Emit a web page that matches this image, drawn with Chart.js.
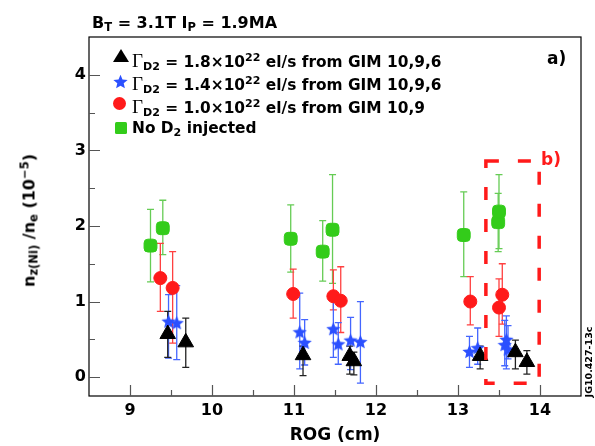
<!DOCTYPE html>
<html>
<head>
<meta charset="utf-8">
<script src="https://cdn.jsdelivr.net/npm/chart.js@4.4.1/dist/chart.umd.min.js"></script>
<style>
  body { margin: 0; background: #fff; }
  #wrap { position: relative; width: 595px; height: 446px; font-family: "DejaVu Sans", sans-serif; font-weight: bold; color: #000; overflow: hidden; }
  #plot { position: absolute; left: 0; top: 0; }
  .txt { position: absolute; white-space: nowrap; font-size: 16px; line-height: 16px; }
  .leg { font-size: 15.4px; }
  .sb { position: relative; top: 0.3em; font-size: 0.72em; }
  .sp { position: relative; top: -0.5em; font-size: 0.72em; }
  .gam { font-family: "Liberation Serif", serif; font-weight: normal; font-size: 19px; }
  .mk { position: absolute; }
</style>
</head>
<body>
<div id="wrap">
  <canvas id="plot" width="595" height="446"></canvas>

  <div class="txt" style="left:92px; top:15px;">B<span class="sb">T</span> = 3.1T I<span class="sb">P</span> = 1.9MA</div>

  <div class="mk" style="left:113px; top:49px; width:0; height:0; border-left:8.5px solid transparent; border-right:8.5px solid transparent; border-bottom:13px solid #000;"></div>
  <canvas class="mk" id="legStar" width="15" height="15" style="left:113px; top:74px;"></canvas>
  <div class="mk" style="left:113px; top:97px; width:13px; height:13px; border-radius:50%; background:#ff1a1a;"></div>
  <div class="mk" style="left:115px; top:122px; width:12px; height:12px; border-radius:1.5px; background:#33cc1a;"></div>

  <div class="txt leg" style="left:132px; top:53px;"><span class="gam">&Gamma;</span><span class="sb">D2</span> = 1.8&times;10<span class="sp">22</span> el/s from GIM 10,9,6</div>
  <div class="txt leg" style="left:132px; top:76px;"><span class="gam">&Gamma;</span><span class="sb">D2</span> = 1.4&times;10<span class="sp">22</span> el/s from GIM 10,9,6</div>
  <div class="txt leg" style="left:132px; top:99px;"><span class="gam">&Gamma;</span><span class="sb">D2</span> = 1.0&times;10<span class="sp">22</span> el/s from GIM 10,9</div>
  <div class="txt leg" style="left:132px; top:120px;">No D<span class="sb">2</span> injected</div>

  <div class="txt" style="left:547px; top:50px; font-size:17px;">a)</div>
  <div class="txt" style="left:541px; top:151px; font-size:17px; color:#ff1a1a;">b)</div>

  <div class="txt" style="left:-70px; top:212px; width:200px; text-align:center; transform:rotate(-90deg);">n<span class="sb">z(Ni)</span> /n<span class="sb">e</span> (10<span class="sp">&minus;5</span>)</div>

  <div class="txt" style="left:539px; top:357px; width:100px; text-align:center; font-size:9.5px; line-height:10px; transform:rotate(-90deg);">JG10.427-13c</div>
</div>

<script>
// axis ticks
const xTicks = [9, 10, 11, 12, 13, 14];
const yTicks = [0, 1, 2, 3, 4];
const xMinorTicks = [9.5, 10.5, 11.5, 12.5, 13.5];
const yMinorTicks = [0.5, 1.5, 2.5, 3.5];

// Gamma_D2 = 1.8e22 el/s (triangles)
const rog18 = [9.46, 9.68, 11.11, 11.68, 11.73, 13.27, 13.70, 13.84];
const ni18 = [0.57, 0.46, 0.29, 0.28, 0.21, 0.28, 0.33, 0.20];
const lo18 = [0.26, 0.13, 0.02, 0.04, 0.03, 0.11, 0.11, 0.04];
const hi18 = [0.87, 0.78, 0.41, 0.41, 0.33, 0.41, 0.49, 0.35];

// Gamma_D2 = 1.4e22 el/s (stars)
const rog14 = [9.47, 9.57, 11.07, 11.13, 11.48, 11.54, 11.69, 11.81, 13.14, 13.24, 13.57, 13.59, 13.61];
const ni14 = [0.74, 0.72, 0.60, 0.46, 0.64, 0.44, 0.49, 0.47, 0.34, 0.39, 0.43, 0.50, 0.37];
const lo14 = [0.25, 0.23, 0.11, 0.16, 0.26, 0.17, 0.10, -0.08, 0.13, 0.17, 0.15, 0.11, 0.24];
const hi14 = [1.09, 1.21, 1.11, 0.76, 1.03, 0.72, 0.79, 1.00, 0.54, 0.65, 0.75, 0.81, 0.68];

// Gamma_D2 = 1.0e22 el/s (circles)
const rog10 = [9.37, 9.52, 10.99, 11.48, 11.57, 13.15, 13.50, 13.54];
const ni10 = [1.31, 1.18, 1.10, 1.07, 1.01, 1.00, 0.92, 1.09];
const lo10 = [0.87, 0.45, 0.78, 0.89, 0.59, 0.69, 0.54, 0.70];
const hi10 = [1.77, 1.66, 1.43, 1.42, 1.46, 1.33, 1.30, 1.50];

// no D2 injected (squares)
const rogNo = [9.25, 9.40, 10.96, 11.35, 11.47, 13.07, 13.49, 13.50];
const niNo = [1.74, 1.97, 1.83, 1.66, 1.95, 1.88, 2.05, 2.19];
const loNo = [1.26, 1.62, 1.39, 1.27, 1.24, 1.33, 1.66, 1.70];
const hiNo = [2.22, 2.34, 2.28, 2.07, 2.68, 2.45, 2.43, 2.68];

// dashed box b)
const boxRog = [13.34, 13.99];
const boxNi = [-0.08, 2.86];

function makeStar(canvas, color) {
    const g = canvas.getContext('2d');
    const s = canvas.width;
    const cx = s / 2, cy = s / 2 + 0.8, ro = s / 2, ri = ro * 0.45;
    g.beginPath();
    for (let k = 0; k < 10; k++) {
        const r = k % 2 ? ri : ro;
        const a = -Math.PI / 2 + k * Math.PI / 5;
        g.lineTo(cx + r * Math.cos(a), cy + r * Math.sin(a));
    }
    g.closePath();
    g.fillStyle = color;
    g.fill();
    return canvas;
}

const starImg = document.createElement('canvas');
starImg.width = 15; starImg.height = 15;
makeStar(starImg, '#2b50ff');
makeStar(document.getElementById('legStar'), '#2b50ff');

function series(label, xs, ys, lo, hi, style, radius, color, errColor) {
    return {
        label: label,
        data: xs.map((x, i) => ({ x: x, y: ys[i] })),
        errLo: lo,
        errHi: hi,
        errColor: errColor,
        pointStyle: style,
        pointRadius: radius,
        pointBackgroundColor: color,
        pointBorderColor: color,
        pointBorderWidth: 1,
        showLine: false
    };
}

// error bars under the markers
const errorBars = {
    id: 'errorBars',
    beforeDatasetsDraw(chart) {
        const ctx = chart.ctx, xs = chart.scales.x, ys = chart.scales.y;
        ctx.save();
        ctx.lineWidth = 1.3;
        for (let d = chart.data.datasets.length - 1; d >= 0; d--) {
            const ds = chart.data.datasets[d];
            ctx.strokeStyle = ds.errColor;
            ds.data.forEach((p, i) => {
                const px = xs.getPixelForValue(p.x);
                const y1 = ys.getPixelForValue(ds.errLo[i]);
                const y2 = ys.getPixelForValue(ds.errHi[i]);
                ctx.beginPath();
                ctx.moveTo(px, y1); ctx.lineTo(px, y2);
                ctx.moveTo(px - 3.5, y1); ctx.lineTo(px + 3.5, y1);
                ctx.moveTo(px - 3.5, y2); ctx.lineTo(px + 3.5, y2);
                ctx.stroke();
            });
        }
        ctx.restore();
    }
};

// frame, inward ticks and the dashed box
const frame = {
    id: 'frame',
    afterDraw(chart) {
        const ctx = chart.ctx, a = chart.chartArea;
        const xs = chart.scales.x, ys = chart.scales.y;
        ctx.save();
        ctx.strokeStyle = '#000';
        ctx.lineWidth = 1.2;
        ctx.strokeRect(a.left, a.top, a.right - a.left, a.bottom - a.top);
        ctx.strokeStyle = '#555';
        ctx.beginPath();
        xTicks.forEach(v => {
            const px = Math.round(xs.getPixelForValue(v)) + 0.5;
            ctx.moveTo(px, a.bottom); ctx.lineTo(px, a.bottom - 11);
        });
        xMinorTicks.forEach(v => {
            const px = Math.round(xs.getPixelForValue(v)) + 0.5;
            ctx.moveTo(px, a.bottom); ctx.lineTo(px, a.bottom - 6);
        });
        yTicks.forEach(v => {
            const py = Math.round(ys.getPixelForValue(v)) + 0.5;
            ctx.moveTo(a.left, py); ctx.lineTo(a.left + 11, py);
        });
        yMinorTicks.forEach(v => {
            const py = Math.round(ys.getPixelForValue(v)) + 0.5;
            ctx.moveTo(a.left, py); ctx.lineTo(a.left + 6, py);
        });
        ctx.stroke();

        // region b)
        const bx1 = xs.getPixelForValue(boxRog[0]), bx2 = xs.getPixelForValue(boxRog[1]);
        const by1 = ys.getPixelForValue(boxNi[1]), by2 = ys.getPixelForValue(boxNi[0]);
        ctx.strokeStyle = '#ff1a1a';
        ctx.lineWidth = 3.5;
        ctx.setLineDash([13, 19]);
        ctx.strokeRect(bx1, by1, bx2 - bx1, by2 - by1);
        ctx.restore();
    }
};

new Chart(document.getElementById('plot'), {
    type: 'scatter',
    data: {
        datasets: [
            series('1.8', rog18, ni18, lo18, hi18, 'triangle', 9, '#000', '#222'),
            series('1.4', rog14, ni14, lo14, hi14, starImg, 7, '#2b50ff', '#4466ff'),
            series('1.0', rog10, ni10, lo10, hi10, 'circle', 6.5, '#ff1a1a', '#ff4040'),
            series('none', rogNo, niNo, loNo, hiNo, 'rectRounded', 7.5, '#33cc1a', '#66cc55')
        ]
    },
    options: {
        responsive: false,
        animation: false,
        events: [],
        layout: { padding: { top: 37, right: 14, left: 0, bottom: 0 } },
        plugins: {
            legend: { display: false },
            tooltip: { enabled: false }
        },
        scales: {
            x: {
                type: 'linear',
                min: 8.5,
                max: 14.5,
                afterBuildTicks: s => { s.ticks = xTicks.map(v => ({ value: v })); },
                afterFit: s => { s.height = 50; },
                grid: { display: false, drawTicks: false },
                border: { display: false },
                ticks: {
                    color: '#000',
                    padding: 5,
                    font: { family: 'DejaVu Sans', size: 16, weight: 'bold' }
                },
                title: {
                    display: true,
                    text: 'ROG (cm)',
                    color: '#000',
                    padding: { top: 0, bottom: 0 },
                    font: { family: 'DejaVu Sans', size: 17, weight: 'bold' }
                }
            },
            y: {
                type: 'linear',
                min: -0.25,
                max: 4.5,
                afterBuildTicks: s => { s.ticks = yTicks.map(v => ({ value: v })); },
                afterFit: s => { s.width = 89; },
                grid: { display: false, drawTicks: false },
                border: { display: false },
                ticks: {
                    color: '#000',
                    padding: 3,
                    font: { family: 'DejaVu Sans', size: 16, weight: 'bold' }
                }
            }
        }
    },
    plugins: [errorBars, frame]
});
</script>
</body>
</html>
